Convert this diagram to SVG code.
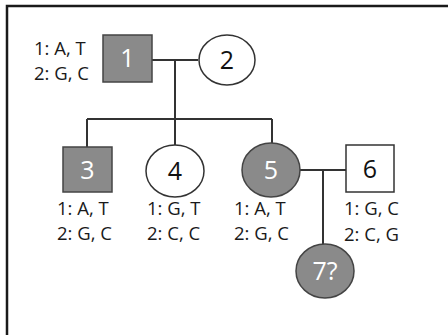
<svg xmlns="http://www.w3.org/2000/svg" width="448" height="335" viewBox="0 0 448 335">
<style>
.frame{fill:none;stroke:#1a1a1a;stroke-width:2.5}
.ln{fill:none;stroke:#333;stroke-width:2}
.aff{fill:#8a8a8a;stroke:#444;stroke-width:1.5}
.un{fill:#fff;stroke:#333;stroke-width:1.5}
.lab{font-family:"Open Sans",sans-serif;font-size:18.5px;fill:#1a1a1a}
.num{font-family:"Open Sans",sans-serif;font-size:25px;text-anchor:middle}
.w{fill:#fff}
.k{fill:#111}
</style>
<rect width="448" height="335" fill="#fff"/>
<path class="frame" d="M7,335 V6 H448"/>
<g id="connectors">
<path class="ln" d="M152,60 H198"/>
<path class="ln" d="M175,60 V119"/>
<path class="ln" d="M87,119 H272"/>
<path class="ln" d="M87,119 V147"/>
<path class="ln" d="M175,119 V145"/>
<path class="ln" d="M272,119 V143"/>
<path class="ln" d="M300,170 H346"/>
<path class="ln" d="M323,170 V245"/>
</g>
<g id="node1">
<rect class="aff" x="103" y="35" width="49" height="47"/>
<text class="num w" x="127.5" y="67">1</text>
<text class="lab" x="34" y="55">1: A, T</text>
<text class="lab" x="34" y="80">2: G, C</text>
</g>
<g id="node2">
<ellipse class="un" cx="227" cy="60" rx="28" ry="25"/>
<text class="num k" x="227" y="69">2</text>
</g>
<g id="node3">
<rect class="aff" x="63" y="147" width="49" height="45"/>
<text class="num w" x="87.5" y="179">3</text>
<text class="lab" x="57" y="215">1: A, T</text>
<text class="lab" x="57" y="240">2: G, C</text>
</g>
<g id="node4">
<ellipse class="un" cx="175" cy="171" rx="29" ry="26"/>
<text class="num k" x="175" y="180">4</text>
<text class="lab" x="147" y="215">1: G, T</text>
<text class="lab" x="147" y="240">2: C, C</text>
</g>
<g id="node5">
<ellipse class="aff" cx="271" cy="170" rx="29" ry="27"/>
<text class="num w" x="271" y="179">5</text>
<text class="lab" x="234" y="215">1: A, T</text>
<text class="lab" x="234" y="240">2: G, C</text>
</g>
<g id="node6">
<rect class="un" x="346" y="145" width="48" height="47"/>
<text class="num k" x="370" y="178">6</text>
<text class="lab" x="344" y="215">1: G, C</text>
<text class="lab" x="344" y="241">2: C, G</text>
</g>
<g id="node7">
<ellipse class="aff" cx="325" cy="271" rx="29" ry="27"/>
<text class="num w" x="325" y="280">7?</text>
</g>
</svg>
